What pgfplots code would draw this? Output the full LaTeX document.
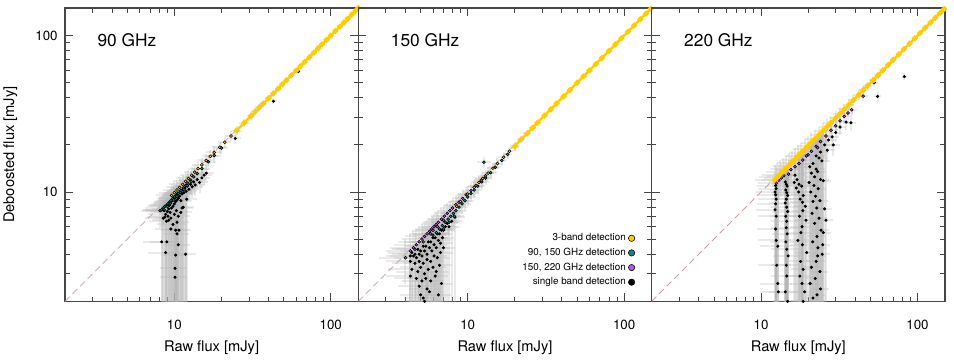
\documentclass[border=0pt]{standalone}
\usepackage{fontspec}
\setmainfont{TeX Gyre Heros}
\usepackage{pgfplots}
\usepackage{pgfplotstable}
\pgfplotsset{compat=1.18}

\definecolor{bandY}{RGB}{255,204,0}
\definecolor{bandT}{RGB}{16,132,132}
\definecolor{bandP}{RGB}{186,85,220}
\definecolor{diagc}{RGB}{200,160,160}
\definecolor{framec}{RGB}{70,70,70}
\definecolor{errc}{RGB}{180,180,180}

% ---------- 90 GHz ----------
% black points whose posterior runs down to zero
\pgfplotstableread{
x y
8.3 7.7
8.6 7.6
8.8 7.2
8.7 6.9
9.0 7.5
9.1 7.0
9.2 7.8
9.3 8.2
9.4 7.4
9.5 8.5
9.6 7.9
9.7 8.8
9.8 8.1
9.9 9.0
10.0 8.4
10.1 9.2
10.2 8.7
10.3 9.5
10.4 8.9
10.5 9.8
10.6 9.1
10.8 9.4
10.9 10.0
11.0 8.8
11.2 9.7
11.3 10.3
11.5 9.9
11.7 10.6
11.9 10.1
9.2 6.6
9.5 6.8
10.0 7.2
10.3 7.6
10.6 7.0
11.0 7.4
11.4 8.0
8.9 6.5
9.8 6.2
10.4 6.4
8.5 6.8
10.2 5.7
10.4 5.4
10.7 5.7
9.5 5.8
8.3 4.8
8.95 4.8
8.8 4.1
10.2 3.95
11.8 4.0
10.1 3.25
10.1 2.85
10.6 4.6
11.2 7.9
12.0 9.0
}\ninetyK
\pgfplotstableread{
x y
12.1 10.9
12.4 10.4
12.7 11.2
13.0 10.8
13.3 11.6
13.6 11.1
14.0 12.0
14.5 11.5
15.0 12.3
15.5 12.8
16.0 13.2
24.5 22.0
43.0 38.0
}\ninetyU
\pgfplotstableread{
x y
8.1 7.6
8.3 7.7
8.5 7.9
8.6 7.7
8.7 8.1
8.9 8.2
9.0 8.1
9.1 8.4
9.3 8.6
9.4 8.5
9.5 8.8
9.8 9.1
9.9 8.9
10.0 9.3
10.3 9.5
10.4 9.4
10.6 9.8
10.9 9.9
11.0 10.2
11.4 10.6
11.5 10.4
11.8 11.0
12.1 11.0
12.2 11.4
12.7 11.9
12.8 11.7
13.3 12.5
14.0 13.1
15.0 14.1
16.5 15.6
18.0 17.1
20.0 19.1
62.0 59.0
}\ninetyT
\pgfplotstableread{
x y
9.6 9.5
10.0 9.9
10.4 10.3
10.8 10.7
11.3 11.2
11.8 11.7
12.3 12.2
12.9 12.8
13.5 13.4
14.2 14.1
15.0 14.9
16.0 15.9
17.0 16.9
18.0 17.9
19.5 19.3
21.0 20.8
23.0 22.8
}\ninetyYlo
\pgfplotstableread{
x y
25.0 24.7
28.0 27.7
31.0 30.7
33.0 32.7
35.0 34.7
37.0 36.7
40.0 39.7
43.0 42.7
46.0 45.7
49.0 48.8
52.0 51.8
56.0 55.8
60.0 59.8
64.0 63.8
68.0 67.8
73.0 72.8
78.0 77.8
83.0 82.8
88.0 87.8
94.0 93.9
100.0 99.9
107.0 107.0
114.0 114.0
121.0 121.0
128.0 128.0
136.0 136.0
144.0 144.0
150.0 150.0
}\ninetyYhi

% ---------- 150 GHz ----------
\pgfplotstableread{
x y
4.3 3.9
4.4 4.1
4.6 4.0
4.8 4.3
5.0 4.2
5.2 4.5
5.4 4.5
5.6 4.8
5.8 4.8
6.0 5.1
6.2 5.1
6.4 5.4
6.6 5.4
6.8 5.7
7.0 5.7
7.2 6.0
4.5 3.9
4.7 3.8
4.9 4.0
5.1 3.9
5.3 4.2
5.5 4.0
5.7 4.4
5.9 4.2
6.1 4.6
6.3 4.4
6.5 4.9
6.7 4.7
6.9 5.1
4.3 3.6
4.6 3.5
4.9 3.6
5.2 3.5
5.5 3.7
5.8 3.6
6.1 3.9
6.4 3.8
6.7 4.1
7.0 4.4
4.4 3.2
4.8 3.1
5.0 3.3
5.3 3.0
5.6 3.2
6.0 3.3
6.3 3.1
6.6 3.4
4.3 2.9
4.7 2.8
5.1 2.7
5.4 2.8
5.8 2.7
6.2 2.9
4.9 2.5
5.5 2.4
5.7 2.3
5.0 2.2
5.2 2.1
6.8 2.6
7.4 6.3
7.6 6.0
7.9 6.5
8.3 6.9
5.3 2.0
6.5 2.2
}\oneftyK
\pgfplotstableread{
x y
4.0 3.8
4.3 4.2
4.5 4.4
4.6 4.3
4.7 4.6
4.9 4.8
5.1 5.0
5.2 4.8
5.3 5.2
5.5 5.4
5.7 5.6
5.8 5.4
5.9 5.8
6.0 5.7
6.1 6.0
6.3 6.2
6.4 6.0
6.5 6.4
6.8 6.7
7.0 6.6
7.1 7.0
7.4 7.3
7.7 7.6
8.0 7.9
8.4 8.3
8.8 8.6
9.3 9.1
9.8 9.6
10.5 10.2
11.3 11.0
12.2 11.9
13.0 12.7
}\oneftyP
\pgfplotstableread{
x y
6.0 5.3
6.3 5.5
6.6 5.8
6.9 6.1
7.0 5.8
7.2 6.4
7.5 6.7
7.6 6.4
7.8 7.0
8.1 7.3
8.2 7.0
8.4 7.6
8.8 8.0
9.2 8.4
9.6 8.8
10.0 9.3
10.5 9.8
11.0 10.3
11.6 10.9
12.3 11.6
13.0 12.3
14.0 13.3
15.0 14.4
16.5 15.9
18.0 17.4
20.0 19.4
12.7 15.5
}\oneftyT
\pgfplotstableread{
x y
8.5 8.1
9.0 8.7
10.0 9.7
11.0 10.7
11.8 11.5
12.5 12.2
13.5 13.2
14.5 14.2
15.5 15.2
17.0 16.7
18.5 18.2
}\oneftyYlo
\pgfplotstableread{
x y
20.0 19.6
22.0 21.7
24.0 23.7
26.0 25.7
28.0 27.8
31.0 30.8
34.0 33.8
37.0 36.8
41.0 40.8
45.0 44.8
50.0 49.8
55.0 54.8
60.0 59.8
66.0 65.8
72.0 71.8
80.0 79.8
88.0 87.8
96.0 96.0
106.0 106.0
116.0 116.0
127.0 127.0
138.0 138.0
148.0 148.0
}\oneftyYhi

% ---------- 220 GHz ----------
\pgfplotstableread{
x y
12.4 11.0
12.5 10.5
12.3 10.0
12.4 9.6
12.5 9.0
12.4 8.4
12.3 7.7
12.5 7.0
12.4 5.8
12.5 4.9
12.6 3.4
12.9 2.3
12.8 2.6
12.8 4.5
14.3 11.6
14.5 11.2
14.7 10.9
14.4 10.3
14.6 9.9
14.8 9.5
14.5 9.0
14.3 8.5
14.6 8.0
14.8 7.5
14.4 7.0
14.6 6.5
14.5 5.9
14.7 5.4
14.4 4.8
14.6 4.3
14.9 3.9
14.5 3.4
14.6 2.9
14.3 2.3
14.8 2.0
16.5 12.8
17.0 12.0
16.3 11.5
17.5 11.2
16.8 10.6
18.2 10.9
17.4 10.0
18.6 9.5
17.8 9.0
18.4 8.6
19.2 8.1
18.5 7.6
17.6 7.0
19.4 6.6
18.3 6.0
18.0 5.5
17.2 4.9
18.4 4.6
19.6 4.1
17.9 3.6
18.6 3.2
17.7 2.9
18.3 2.6
19.0 2.3
18.6 2.0
20.5 14.5
21.5 15.2
22.5 14.0
23.5 16.5
24.5 15.8
21.0 13.2
22.0 12.5
23.0 13.5
24.0 12.0
20.3 11.5
21.8 11.0
23.2 10.5
25.0 11.8
20.8 10.0
22.3 9.4
21.5 8.7
23.8 8.8
22.7 7.9
21.2 7.3
23.5 6.8
22.0 6.3
24.2 5.7
22.8 5.2
21.4 4.8
23.1 4.4
24.6 4.0
22.5 3.6
21.0 3.3
23.8 3.1
22.2 2.8
20.6 2.6
24.0 2.4
22.8 2.2
21.5 2.1
25.5 7.8
26.0 6.6
24.8 4.6
23.0 3.9
25.0 5.5
}\twotwentyK
\pgfplotstableread{
x y
22.5 17.0
24.0 18.0
25.5 20.0
26.5 18.5
27.0 21.5
28.5 22.5
29.0 20.0
30.0 24.0
32.0 26.0
35.0 28.0
37.6 27.7
55.6 40.8
82.5 54.7
}\twotwentyU
\pgfplotstableread{
x y
12.5 11.4
13.0 11.9
13.5 12.3
14.0 12.7
15.0 13.0
15.5 13.9
16.5 14.5
17.5 15.2
18.5 16.0
19.5 17.0
20.0 17.3
21.0 18.2
22.5 19.6
23.0 19.2
24.0 21.0
26.0 22.8
28.0 24.8
30.0 26.5
32.0 28.5
34.0 30.4
36.0 32.0
38.0 33.5
45.0 41.0
52.8 50.0
}\twotwentyP
\pgfplotstableread{
x y
12.2 11.9
12.7 12.4
13.2 12.9
13.8 13.5
14.4 14.1
15.0 14.7
15.7 15.4
16.4 16.1
17.2 16.9
18.0 17.7
19.0 18.7
20.0 19.7
21.0 20.7
22.2 21.9
23.5 23.2
25.0 24.7
26.5 26.2
28.0 27.7
30.0 29.7
32.0 31.7
34.0 33.7
36.5 36.2
39.0 38.7
42.0 41.7
45.0 44.8
48.0 47.8
52.0 51.8
56.0 55.8
60.0 59.8
65.0 64.8
70.0 69.8
76.0 75.8
82.0 81.8
89.0 88.8
96.0 95.9
104.0 104.0
112.0 112.0
121.0 121.0
130.0 130.0
140.0 140.0
148.0 148.0
}\twotwentyY

% shared look of the three panels
\pgfplotsset{
  every axis/.append style={
    scale only axis, width=220pt, height=220pt,
    xmin=2, xmax=150, ymin=2, ymax=150,
    xtick={10,100}, ytick={10,100},
    xticklabels={10,100},
    minor xtick={2,3,4,5,6,7,8,9,20,30,40,50,60,70,80,90},
    minor ytick={2,3,4,5,6,7,8,9,20,30,40,50,60,70,80,90},
    tick align=inside,
    major tick length=6pt, minor tick length=3.5pt,
    axis line style={draw=framec, line width=0.8pt},
    tick style={draw=framec, line width=0.6pt},
    tick label style={font=\fontsize{10}{12}\selectfont},
    xticklabel style={anchor=base, yshift=-20.8pt},
    yticklabel style={anchor=east, xshift=-2pt},
    xlabel style={at={(rel axis cs:0.5,0)}, yshift=-34.5pt, anchor=center,
      font=\fontsize{11}{13}\selectfont},
    ylabel style={at={(rel axis cs:-0.186,0.5)}, anchor=center,
      font=\fontsize{11}{13}\selectfont},
    xlabel={Raw flux [mJy]},
  },
  every error bar/.append style={errc, opacity=0.28, line width=1.5pt},
  % invisible markers: the plot only carries the error bars
  errbars/.style={forget plot, only marks, mark=*, mark size=0.1pt,
    mark options={draw=none, fill=none}},
  blackdots/.style={forget plot, only marks, mark=*, mark size=0.95pt,
    mark options={draw=none, fill=black}},
  coldots/.style={forget plot, only marks, mark=*, mark size=1.1pt,
    mark options={draw=none, fill=#1}},
  yline/.style={forget plot, draw=bandY, line width=1.9pt, mark=*, mark size=1.1pt,
    mark options={draw=none, fill=bandY}},
}

\begin{document}
\begin{tikzpicture}
\useasboundingbox (-48.75pt,-45.5pt) rectangle (666.75pt,226pt);

% 90 GHz
\begin{loglogaxis}[at={(0pt,0pt)}, anchor=south west,
  yticklabels={10,100}, ylabel={Deboosted flux [mJy]}]
\addplot[forget plot, draw=diagc, line width=0.6pt, dash pattern=on 5pt off 3pt] coordinates {(2,2) (150,150)};
\addplot[errbars, error bars/.cd, x dir=both, y dir=both, error mark=none, x fixed=2, y explicit]
  table[x=x, y=y, y error plus expr={max(\thisrow{x}-\thisrow{y},0)}, y error minus expr={\thisrow{y}-1.6}] {\ninetyK};
\addplot[errbars, error bars/.cd, x dir=both, y dir=both, error mark=none, x fixed=2, y fixed=1.7]
  table[x=x, y=y] {\ninetyU};
\addplot[errbars, error bars/.cd, x dir=both, y dir=both, error mark=none, x fixed=2, y fixed=1.7]
  table[x=x, y=y] {\ninetyT};
\addplot[errbars, error bars/.cd, x dir=both, y dir=both, error mark=none, x fixed=2, y fixed=1.7]
  table[x=x, y=y] {\ninetyYlo};
\addplot[errbars, error bars/.cd, x dir=both, y dir=both, error mark=none, x fixed=2, y fixed=1.7]
  table[x=x, y=y] {\ninetyYhi};
\addplot[blackdots] table[x=x, y=y] {\ninetyK};
\addplot[blackdots] table[x=x, y=y] {\ninetyU};
\addplot[coldots=bandT] table[x=x, y=y] {\ninetyT};
\addplot[coldots=bandY] table[x=x, y=y] {\ninetyYlo};
\addplot[yline] table[x=x, y=y] {\ninetyYhi};
\node[anchor=west, font=\fontsize{13}{15}\selectfont] at (rel axis cs:0.095,0.89) {90 GHz};
\end{loglogaxis}

% 150 GHz
\begin{loglogaxis}[at={(220pt,0pt)}, anchor=south west, yticklabels={},
  legend style={at={(0.948,0.035)}, anchor=south east, draw=none, fill=none,
    font=\fontsize{7.4}{8.5}\selectfont, row sep=0pt, inner sep=1pt},
  legend cell align=right, legend plot pos=right]
\addplot[forget plot, draw=diagc, line width=0.6pt, dash pattern=on 5pt off 3pt] coordinates {(2,2) (150,150)};
\addplot[errbars, error bars/.cd, x dir=both, y dir=both, error mark=none, x fixed=1.3, y explicit]
  table[x=x, y=y, y error plus expr={max(0.95*\thisrow{x}-\thisrow{y},0)}, y error minus expr={\thisrow{y}-1.6}] {\oneftyK};
\addplot[errbars, error bars/.cd, x dir=both, y dir=both, error mark=none, x fixed=1.3, y fixed=1.2]
  table[x=x, y=y] {\oneftyP};
\addplot[errbars, error bars/.cd, x dir=both, y dir=both, error mark=none, x fixed=1.3, y fixed=1.2]
  table[x=x, y=y] {\oneftyT};
\addplot[errbars, error bars/.cd, x dir=both, y dir=both, error mark=none, x fixed=1.3, y fixed=1.2]
  table[x=x, y=y] {\oneftyYlo};
\addplot[errbars, error bars/.cd, x dir=both, y dir=both, error mark=none, x fixed=1.3, y fixed=1.2]
  table[x=x, y=y] {\oneftyYhi};
\addplot[blackdots] table[x=x, y=y] {\oneftyK};
\addplot[coldots=bandT] table[x=x, y=y] {\oneftyT};
\addplot[coldots=bandP] table[x=x, y=y] {\oneftyP};
\addplot[coldots=bandY] table[x=x, y=y] {\oneftyYlo};
\addplot[yline] table[x=x, y=y] {\oneftyYhi};
\node[anchor=west, font=\fontsize{13}{15}\selectfont] at (rel axis cs:0.095,0.89) {150 GHz};
\addlegendimage{only marks, mark=*, mark size=2.4pt, mark options={draw=none, fill=bandY}}
\addlegendentry{3-band detection}
\addlegendimage{only marks, mark=*, mark size=2.4pt, mark options={draw=none, fill=bandT}}
\addlegendentry{90, 150 GHz detection}
\addlegendimage{only marks, mark=*, mark size=2.4pt, mark options={draw=none, fill=bandP}}
\addlegendentry{150, 220 GHz detection}
\addlegendimage{only marks, mark=*, mark size=2.4pt, mark options={draw=none, fill=black}}
\addlegendentry{single band detection}
\end{loglogaxis}

% 220 GHz
\begin{loglogaxis}[at={(440pt,0pt)}, anchor=south west, yticklabels={}]
\addplot[forget plot, draw=diagc, line width=0.6pt, dash pattern=on 5pt off 3pt] coordinates {(2,2) (150,150)};
\addplot[errbars, error bars/.cd, x dir=both, y dir=both, error mark=none, x fixed=3, y explicit]
  table[x=x, y=y, y error plus expr={max(0.96*\thisrow{x}-\thisrow{y},0)}, y error minus expr={\thisrow{y}-1.6}] {\twotwentyK};
\addplot[errbars, error bars/.cd, x dir=both, y dir=both, error mark=none, x fixed=3, y fixed=3]
  table[x=x, y=y] {\twotwentyU};
\addplot[errbars, error bars/.cd, x dir=both, y dir=both, error mark=none, x fixed=3, y fixed=3]
  table[x=x, y=y] {\twotwentyP};
\addplot[errbars, error bars/.cd, x dir=both, y dir=both, error mark=none, x fixed=3, y fixed=3]
  table[x=x, y=y] {\twotwentyY};
\addplot[blackdots] table[x=x, y=y] {\twotwentyK};
\addplot[blackdots] table[x=x, y=y] {\twotwentyU};
\addplot[coldots=bandP] table[x=x, y=y] {\twotwentyP};
\addplot[yline] table[x=x, y=y] {\twotwentyY};
\node[anchor=west, font=\fontsize{13}{15}\selectfont] at (rel axis cs:0.095,0.89) {220 GHz};
\end{loglogaxis}
\end{tikzpicture}
\end{document}
